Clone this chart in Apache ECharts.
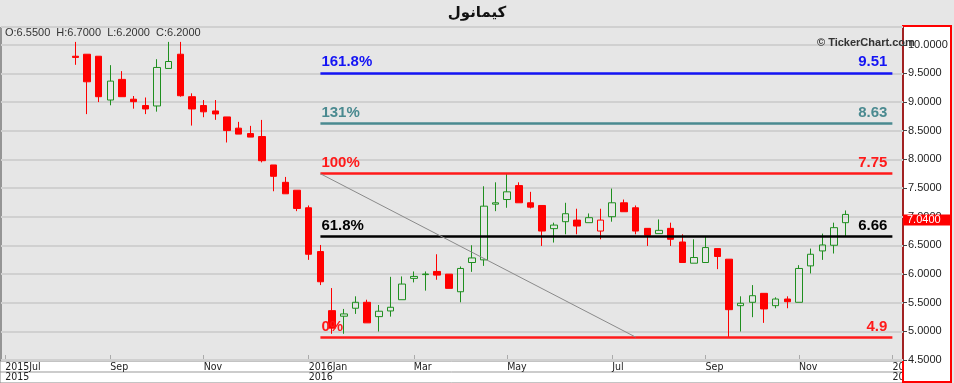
<!DOCTYPE html>
<html><head><meta charset="utf-8">
<script src="https://cdn.jsdelivr.net/npm/echarts@6/dist/echarts.min.js"></script>
<style>html,body{margin:0;padding:0;background:#e6e6e6}#c{width:954px;height:383px}</style>
</head><body><div id="c"></div>
<script>
// ---------- data ----------
const titleText = 'كيمانول';
const ohlcText = 'O:6.5500  H:6.7000  L:6.2000  C:6.2000';
const weekIdx = [0,1,2,3,4,5,6,7,8,9,10,11,12,13,14,15,16,17,18,19,20,21,22,23,24,25,26,27,28,29,30,31,32,33,34,35,36,37,38,39,40,41,42,43,44,45,46,47,48,49,50,51,52,53,54,55,56,57,58,59,60,61,62,63,64,65,66];
const opens  = [9.80,9.835,9.80,9.036,9.396,9.05,8.94,8.932,9.587,9.835,9.094,8.94,8.845,8.741,8.545,8.451,8.399,7.903,7.60,7.462,7.156,6.392,5.361,5.264,5.403,5.507,5.257,5.356,5.552,5.924,5.99,6.045,5.998,5.691,6.201,6.247,7.219,7.30,7.543,7.243,7.196,6.792,6.913,6.941,6.896,6.75,7.00,7.243,7.156,6.797,6.705,6.797,6.559,6.189,6.201,6.444,6.259,5.448,5.507,5.663,5.448,5.564,5.507,6.142,6.403,6.502,6.896];
const highs  = [10.05,9.835,9.80,9.644,9.54,9.106,9.08,9.748,10.05,10.05,9.153,9.036,9.036,8.741,8.655,8.585,8.689,7.903,7.694,7.462,7.196,6.507,5.755,5.391,5.611,5.552,5.46,5.951,5.958,6.045,6.045,6.345,5.998,6.132,6.502,7.531,7.60,7.75,7.60,7.434,7.196,6.896,7.243,7.139,7.057,7.139,7.491,7.30,7.196,6.797,6.953,6.896,6.693,6.606,6.653,6.444,6.259,5.611,5.807,5.663,5.594,5.611,6.155,6.444,6.705,6.896,7.109];
const lows   = [9.65,8.79,9.00,8.944,9.094,8.885,8.79,8.833,9.587,9.094,8.59,8.736,8.69,8.295,8.441,8.389,7.948,7.444,7.40,7.097,6.247,5.807,4.957,4.957,5.304,5.148,4.997,5.257,5.552,5.854,5.71,5.90,5.75,5.507,6.038,6.142,7.097,7.156,7.243,7.144,6.49,6.549,6.693,6.693,6.896,6.606,6.913,7.087,6.693,6.49,6.705,6.49,6.201,6.189,6.201,6.085,4.90,4.997,5.247,5.148,5.403,5.403,5.507,6.01,6.247,6.358,6.663];
const closes = [9.78,9.354,9.094,9.366,9.094,9.007,8.88,9.604,9.708,9.111,8.88,8.83,8.793,8.503,8.441,8.389,7.977,7.705,7.40,7.144,6.345,5.865,5.056,5.304,5.507,5.148,5.351,5.42,5.825,5.958,6.00,5.981,5.75,6.097,6.281,7.184,7.243,7.434,7.243,7.167,6.75,6.854,7.052,6.837,6.983,6.941,7.243,7.087,6.75,6.675,6.762,6.606,6.201,6.288,6.462,6.306,5.378,5.49,5.622,5.391,5.564,5.517,6.097,6.345,6.507,6.809,7.04];
const hollowRedWeeks = [45];
const monthTicks  = [-6, 3, 11, 20, 29, 37, 46, 54, 62, 70];
const monthLabels = ['2015Jul','Sep','Nov','2016Jan','Mar','May','Jul','Sep','Nov','2017Jan'];
const yearTicks  = [-6, 20, 70];
const yearLabels = ['2015','2016','2017'];
const fibPct  = ['161.8%','131%','100%','61.8%','0%'];
const fibVals = [9.51, 8.63, 7.75, 6.66, 4.9];
const fibStartWeek = 21, fibEndWeek = 70, trendEndWeek = 48;
const yMin = 4.5, yMax = 10.31, yStep = 0.5;
const xMin = -6.365, xMax = 70.91;

// ---------- styles ----------
const fibColors = ['#1414f5','#4a8a90','#ff1a1a','#000000','#ff1a1a'];
const UP = '#1f8f1f', DOWN = '#ff0000';

const candleData = weekIdx.map((w, i) => {
  const item = { value: [w, opens[i], closes[i], lows[i], highs[i]] };
  if (hollowRedWeeks.indexOf(w) >= 0) item.itemStyle = { color: 'rgba(0,0,0,0)', borderColor: DOWN };
  return item;
});

const markData = [];
fibVals.forEach((v, i) => {
  const lblBase = { show: true, color: fibColors[i], fontSize: 15, fontWeight: 'bold', fontFamily: 'Liberation Sans, Arial, sans-serif' };
  markData.push([
    { coord: [fibStartWeek, v], lineStyle: { color: fibColors[i], width: 2.5, type: 'solid' },
      label: Object.assign({}, lblBase, { position: 'insideStartTop', formatter: fibPct[i], distance: [1, 3] }) },
    { coord: [fibEndWeek, v] }
  ]);
  markData.push([
    { coord: [fibStartWeek, v], lineStyle: { color: 'rgba(0,0,0,0)', width: 1 },
      label: Object.assign({}, lblBase, { position: 'insideEndTop', formatter: String(v), distance: [5, 3] }) },
    { coord: [fibEndWeek, v] }
  ]);
});
markData.push([
  { coord: [fibStartWeek, fibVals[2]], lineStyle: { color: '#8a8a8a', width: 1, type: 'solid' }, label: { show: false } },
  { coord: [trendEndWeek, fibVals[4]] }
]);

const axisFont = '"Liberation Sans Narrow", "DejaVu Sans Condensed", "Liberation Sans", Arial, sans-serif';
const chart = echarts.init(document.getElementById('c'), null, { renderer: 'canvas' });
chart.setOption({
  animation: false,
  backgroundColor: '#e6e6e6',
  grid: { left: 1, right: 51, top: 27, bottom: 22, show: true, backgroundColor: 'rgba(0,0,0,0)', borderColor: '#444', borderWidth: 1 },
  xAxis: [
    { type: 'value', min: xMin, max: xMax, z: -2,
      axisLine: { show: true, onZero: false, lineStyle: { color: '#333', width: 1 } },
      axisTick: { show: true, inside: true, length: 5, customValues: monthTicks, lineStyle: { color: '#aaa' } },
      axisLabel: { show: true, customValues: monthTicks, align: 'left', margin: 2, color: '#222', fontSize: 10.5,
        fontFamily: axisFont,
        formatter: (v) => { const k = monthTicks.indexOf(Math.round(v)); return k >= 0 ? monthLabels[k] : ''; } },
      splitLine: { show: false } },
    { type: 'value', min: xMin, max: xMax, position: 'bottom', offset: 10, z: -2,
      axisLine: { show: false, onZero: false }, axisTick: { show: false },
      axisLabel: { show: true, customValues: yearTicks, align: 'left', margin: 2, color: '#222', fontSize: 10.5,
        fontFamily: axisFont,
        formatter: (v) => { const k = yearTicks.indexOf(Math.round(v)); return k >= 0 ? yearLabels[k] : ''; } },
      splitLine: { show: false } }
  ],
  yAxis: { type: 'value', position: 'right', min: yMin, max: yMax, interval: yStep, z: 0,
    axisLine: { show: false, onZero: false },
    axisTick: { show: true, length: 4, lineStyle: { color: '#444' } },
    axisLabel: { color: '#222', fontSize: 11, margin: 5, fontFamily: 'Liberation Sans, Arial, sans-serif',
      showMaxLabel: false, formatter: (v) => (Math.abs(v / yStep - Math.round(v / yStep)) < 1e-6 ? v.toFixed(4) : '') },
    splitLine: { show: true, lineStyle: { color: '#d0d0d0', width: 2 } } },
  series: [{
    type: 'candlestick', xAxisIndex: 0, yAxisIndex: 0, barWidth: 7, z: 2,
    encode: { x: 0, y: [1, 2, 3, 4] },
    itemStyle: { color: 'rgba(0,0,0,0)', color0: DOWN, borderColor: UP, borderColor0: DOWN, borderWidth: 1 },
    data: candleData,
    markLine: { silent: true, symbol: ['none', 'none'], animation: false, data: markData }
  }]
});

const lastClose = closes[closes.length - 1];
const py = chart.convertToPixel({ yAxisIndex: 0 }, lastClose);
chart.setOption({
  graphic: { elements: [
    { type: 'rect', z: -3, shape: { x: 0, y: 361, width: 903, height: 22 }, style: { fill: '#ffffff', stroke: '#888', lineWidth: 1 } },
    { type: 'line', z: -3, shape: { x1: 0, y1: 372, x2: 903, y2: 372 }, style: { stroke: '#999', lineWidth: 1 } },
    { type: 'rect', z: -1, shape: { x: 903, y: 26, width: 48, height: 356 }, style: { fill: '#ffffff', stroke: '#ff0000', lineWidth: 2 } },
    { type: 'rect', z: 20, shape: { x: 903, y: py, width: 47, height: 11 }, style: { fill: '#ff0000' } },
    { type: 'text', z: 21, x: 907, y: py + 5.5, style: { text: lastClose.toFixed(4), fill: '#ffffff', font: '11px "Liberation Sans", Arial, sans-serif', align: 'left', verticalAlign: 'middle', textAlign: 'left', textVerticalAlign: 'middle' } },
    { type: 'text', z: 30, x: 477, y: 13, style: { text: titleText, fill: '#111', font: 'bold 15px "DejaVu Sans", sans-serif', align: 'center', verticalAlign: 'middle', textAlign: 'center', textVerticalAlign: 'middle' } },
    { type: 'text', z: 30, x: 5, y: 33, style: { text: ohlcText, fill: '#333', font: '11px "Liberation Sans", Arial, sans-serif', align: 'left', verticalAlign: 'middle', textAlign: 'left', textVerticalAlign: 'middle' } },
    { type: 'text', z: 30, x: 817, y: 43, style: { text: '© TickerChart.com', fill: '#333', font: 'bold 11px "Liberation Sans", Arial, sans-serif', align: 'left', verticalAlign: 'middle', textAlign: 'left', textVerticalAlign: 'middle' } }
  ] }
});
</script></body></html>
